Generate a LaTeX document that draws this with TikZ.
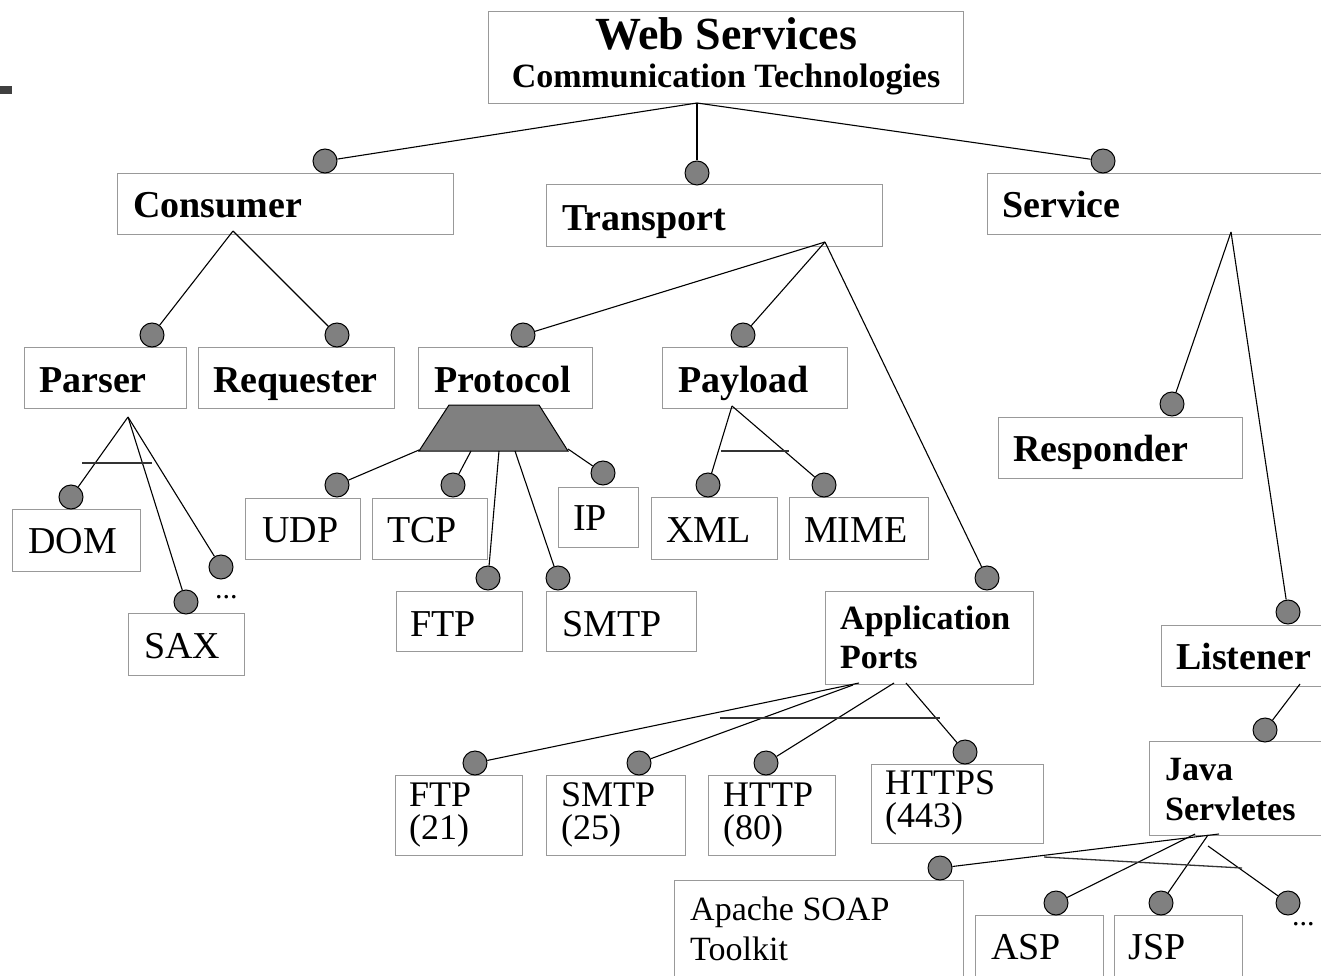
\documentclass[tikz,border=0pt]{standalone}
\usepackage{fontspec}
\setmainfont{Liberation Serif}
\definecolor{boxgray}{HTML}{999999}
\definecolor{dotgray}{HTML}{808080}
\newcommand\mybox[5]{\node[box,anchor=north west,inner sep=0pt,minimum width=#4pt,minimum height=#5pt] (#1) at (#2,#3) {};}
\begin{document}
\begin{tikzpicture}[x=1pt,y=-1pt,
  box/.style={draw=boxgray, line width=1.3pt},
  dot/.style={circle, draw=black, fill=dotgray, line width=1pt, minimum size=24pt, inner sep=0pt},
  conn/.style={draw=black, line width=1.1pt},
  bar/.style={draw=black!80, line width=1.3pt},
  lab/.style={anchor=base west, inner sep=0pt, font=\fontsize{38}{40}\selectfont},
  plab/.style={anchor=base west, inner sep=0pt, font=\fontsize{36}{38}\selectfont},
  blab/.style={anchor=base west, inner sep=0pt, font=\fontsize{38}{40}\selectfont\bfseries},
  slab/.style={anchor=base west, inner sep=0pt, font=\fontsize{34}{36}\selectfont},
  sblab/.style={anchor=base west, inner sep=0pt, font=\fontsize{34}{36}\selectfont\bfseries}]
\useasboundingbox (0,0) rectangle (1321,976);
\clip (0,0) rectangle (1321,976);
\fill[black!75] (0,86) rectangle (12,94);

% boxes
\mybox{ws}{488}{11}{475}{92}
\mybox{consumer}{117}{173}{336}{61}
\mybox{transport}{546}{184}{336}{62}
\mybox{service}{987}{173}{353}{61}
\mybox{parser}{24}{347}{162}{61}
\mybox{requester}{198}{347}{196}{61}
\mybox{protocol}{418}{347}{174}{61}
\mybox{payload}{662}{347}{185}{61}
\mybox{responder}{998}{417}{244}{61}
\mybox{dom}{12}{509}{128}{62}
\mybox{sax}{128}{613}{116}{62}
\mybox{udp}{245}{498}{115}{61}
\mybox{tcp}{372}{498}{115}{61}
\mybox{ip}{558}{487}{80}{60}
\mybox{xml}{651}{497}{126}{62}
\mybox{mime}{789}{497}{139}{62}
\mybox{ftpP}{396}{591}{126}{60}
\mybox{smtpP}{546}{591}{150}{60}
\mybox{appports}{825}{591}{208}{93}
\mybox{listener}{1161}{625}{179}{61}
\mybox{ftp21}{395}{775}{127}{80}
\mybox{smtp25}{546}{775}{139}{80}
\mybox{http80}{708}{775}{127}{80}
\mybox{https}{871}{764}{172}{79}
\mybox{java}{1149}{741}{191}{94}
\mybox{apache}{674}{880}{289}{110}
\mybox{asp}{975}{915}{128}{75}
\mybox{jsp}{1114}{915}{128}{75}

% labels
\node[anchor=base, inner sep=0pt, font=\fontsize{46}{48}\selectfont\bfseries] (tws1) at (726,50) {Web Services};
\node[anchor=base, inner sep=0pt, font=\fontsize{34}{36}\selectfont\bfseries] (tws2) at (726,88) {Communication Technologies};
\node[blab] (tcons) at (133,218) {Consumer};
\node[blab] (ttrans) at (562,230) {Transport};
\node[blab] (tserv) at (1002,218) {Service};
\node[blab] (tpars) at (39,392) {Parser};
\node[blab] (treq) at (213,392) {Requester};
\node[blab] (tprot) at (434,392) {Protocol};
\node[blab] (tpay) at (678,392) {Payload};
\node[blab] (tresp) at (1013,461) {Responder};
\node[blab] (tlist) at (1176,669) {Listener};
\node[lab] (tdom) at (28,553) {DOM};
\node[lab] (tsax) at (144,658) {SAX};
\node[anchor=base west, inner sep=0pt, font=\fontsize{30}{32}\selectfont] (tpdots) at (215,598) {...};
\node[lab] (tudp) at (262,542) {UDP};
\node[lab] (ttcp) at (387,542) {TCP};
\node[lab] (tip) at (573,530) {IP};
\node[lab] (txml) at (666,542) {XML};
\node[lab] (tmime) at (804,542) {MIME};
\node[lab] (tftpP) at (410,636) {FTP};
\node[lab] (tsmtpP) at (562,636) {SMTP};
\node[sblab] (tapp1) at (840,629) {Application};
\node[sblab] (tapp2) at (840,668) {Ports};
\node[plab] (tftp1) at (409,806) {FTP};
\node[plab] (tftp2) at (409,839) {(21)};
\node[plab] (tsmtp1) at (561,806) {SMTP};
\node[plab] (tsmtp2) at (561,839) {(25)};
\node[plab] (thttp1) at (723,806) {HTTP};
\node[plab] (thttp2) at (723,839) {(80)};
\node[plab] (thttps1) at (885,794) {HTTPS};
\node[plab] (thttps2) at (885,827) {(443)};
\node[sblab] (tjava1) at (1165,780) {Java};
\node[sblab] (tjava2) at (1165,820) {Servletes};
\node[slab] (tapache1) at (690,920) {Apache SOAP};
\node[slab] (tapache2) at (690,960) {Toolkit};
\node[lab] (tasp) at (991,959) {ASP};
\node[lab] (tjsp) at (1128,959) {JSP};
\node[anchor=base west, inner sep=0pt, font=\fontsize{30}{32}\selectfont] (tjdots) at (1292,925) {...};

% protocol trapezoid
\filldraw[fill=dotgray, draw=black, line width=1pt] (449,405) -- (539,405) -- (568,451) -- (419,451) -- cycle;

% dots
\node[dot] (dC) at (325,161) {};
\node[dot] (dT) at (697,173) {};
\node[dot] (dS) at (1103,161) {};
\node[dot] (dPar) at (152,335) {};
\node[dot] (dReq) at (337,335) {};
\node[dot] (dProt) at (523,335) {};
\node[dot] (dPay) at (743,335) {};
\node[dot] (dApp) at (987,578) {};
\node[dot] (dResp) at (1172,404) {};
\node[dot] (dList) at (1288,612) {};
\node[dot] (dDom) at (71,497) {};
\node[dot] (dSax) at (186,602) {};
\node[dot] (dPdots) at (221,567) {};
\node[dot] (dUdp) at (337,485) {};
\node[dot] (dTcp) at (453,485) {};
\node[dot] (dFtpP) at (488,578) {};
\node[dot] (dSmtpP) at (558,578) {};
\node[dot] (dIp) at (603,473) {};
\node[dot] (dXml) at (708,485) {};
\node[dot] (dMime) at (824,485) {};
\node[dot] (dFtp21) at (475,763) {};
\node[dot] (dSmtp25) at (639,763) {};
\node[dot] (dHttp) at (766,763) {};
\node[dot] (dHttps) at (965,752) {};
\node[dot] (dJava) at (1265,730) {};
\node[dot] (dApache) at (940,868) {};
\node[dot] (dAsp) at (1056,903) {};
\node[dot] (dJsp) at (1161,903) {};
\node[dot] (dJdots) at (1288,903) {};

% connector origins
\coordinate (wsb) at (697,103);
\coordinate (consA) at (233,231);
\coordinate (transA) at (825,242);
\coordinate (servA) at (1231,232);
\coordinate (parsA) at (128,417);
\coordinate (payA) at (732,406);
\coordinate (trUdp) at (419,450);
\coordinate (trTcp) at (471,451);
\coordinate (trFtp) at (499,451);
\coordinate (trSmtp) at (515,451);
\coordinate (trIp) at (568,449);
\coordinate (appA1) at (859,683);
\coordinate (appA2) at (853,685);
\coordinate (appA3) at (894,683);
\coordinate (appA4) at (906,683);
\coordinate (listA) at (1300,684);
\coordinate (javaA1) at (1219,834);
\coordinate (javaA2) at (1195,834);
\coordinate (javaA3) at (1208,835);
\coordinate (javaA4) at (1208,846);

% connectors
\draw[conn] (wsb) -- (dC);
\draw[conn] (wsb) -- (dT);
\draw[conn] (wsb) -- (dS);
\draw[conn] (consA) -- (dPar);
\draw[conn] (consA) -- (dReq);
\draw[conn] (transA) -- (dProt);
\draw[conn] (transA) -- (dPay);
\draw[conn] (transA) -- (dApp);
\draw[conn] (servA) -- (dResp);
\draw[conn] (servA) -- (dList);
\draw[conn] (parsA) -- (dDom);
\draw[conn] (parsA) -- (dSax);
\draw[conn] (parsA) -- (dPdots);
\draw[bar] (82,463) -- (152,463);
\draw[conn] (trUdp) -- (dUdp);
\draw[conn] (trTcp) -- (dTcp);
\draw[conn] (trFtp) -- (dFtpP);
\draw[conn] (trSmtp) -- (dSmtpP);
\draw[conn] (trIp) -- (dIp);
\draw[conn] (payA) -- (dXml);
\draw[conn] (payA) -- (dMime);
\draw[bar] (721,451) -- (789,451);
\draw[conn] (appA1) -- (dFtp21);
\draw[conn] (appA2) -- (dSmtp25);
\draw[conn] (appA3) -- (dHttp);
\draw[conn] (appA4) -- (dHttps);
\draw[bar] (720,718) -- (940,718);
\draw[conn] (listA) -- (dJava);
\draw[conn] (javaA1) -- (dApache);
\draw[conn] (javaA2) -- (dAsp);
\draw[conn] (javaA3) -- (dJsp);
\draw[conn] (javaA4) -- (dJdots);
\draw[bar] (1044,857) -- (1242,868);
\end{tikzpicture}
\end{document}
